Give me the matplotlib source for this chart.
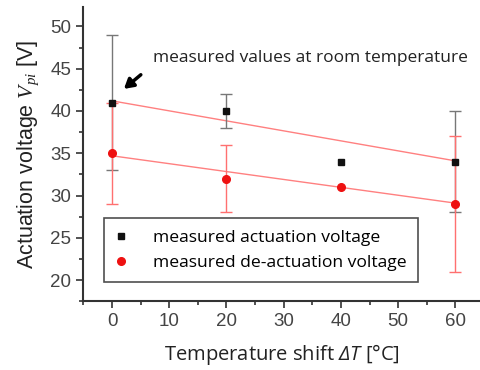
import numpy as np
import matplotlib.pyplot as plt
from matplotlib.ticker import MultipleLocator

# temperature shift [°C]
temp = [0, 20, 40, 60]

# measured actuation voltage [V] with error bar limits
v_act = [41, 40, 34, 34]
v_act_lo = [33, 38, 34, 28]
v_act_hi = [49, 42, 34, 40]

# measured de-actuation voltage [V] with error bar limits
v_deact = [35, 32, 31, 29]
v_deact_lo = [29, 28, 31, 21]
v_deact_hi = [41, 36, 31, 37]

# fitted lines (endpoints at 0 and 60 °C)
fit_x = [0, 60]
fit_act = [41.2, 34.1]
fit_deact = [34.7, 29.1]

label_font = "Open Sans"
tick_font = "Liberation Sans"

plt.rcParams["mathtext.fontset"] = "custom"
plt.rcParams["mathtext.rm"] = "Liberation Serif"
plt.rcParams["mathtext.it"] = "Liberation Serif:italic"
plt.rcParams["mathtext.sf"] = "Open Sans:italic"

fig = plt.figure(figsize=(4.8, 3.7), dpi=100)
ax = fig.add_axes([0.173, 0.186, 0.827, 0.795])


def draw_err(x, y, lo, hi, color, z):
    x, y, lo, hi = map(np.asarray, (x, y, lo, hi))
    m = hi > lo  # skip points without error bars
    ax.errorbar(x[m], y[m], yerr=[y[m] - lo[m], hi[m] - y[m]], fmt="none",
                ecolor=color, elinewidth=1.0, capsize=4, capthick=1.0, zorder=z)


ax.plot(fit_x, fit_act, color="#ff8080", lw=1.0, zorder=2)
ax.plot(fit_x, fit_deact, color="#ff8080", lw=1.0, zorder=2)

draw_err(temp, v_act, v_act_lo, v_act_hi, "#777777", 3)
draw_err(temp, v_deact, v_deact_lo, v_deact_hi, "#ff7070", 4)
ax.plot(temp, v_act, "s", color="#111111", ms=5, zorder=5,
        label="measured actuation voltage")
ax.plot(temp, v_deact, "o", color="#ee1111", ms=5.5, zorder=5,
        label="measured de-actuation voltage")

ax.annotate("", xy=(1.7, 42.4), xytext=(5.4, 44.5),
            arrowprops=dict(arrowstyle="-|>,head_length=0.55,head_width=0.32",
                            color="black", lw=2.5))
ax.text(7.1, 46.3, "measured values at room temperature", fontsize=12.5,
        family=label_font, color="#222222", va="center", ha="left")

ax.set_xlim(-5.07, 64.3)
ax.set_ylim(17.5, 52.3)
ax.xaxis.set_major_locator(MultipleLocator(10))
ax.xaxis.set_minor_locator(MultipleLocator(5))
ax.yaxis.set_major_locator(MultipleLocator(5))
ax.yaxis.set_minor_locator(MultipleLocator(2.5))

for side in ["top", "right"]:
    ax.spines[side].set_visible(False)
for side in ["left", "bottom"]:
    ax.spines[side].set_linewidth(1.5)
    ax.spines[side].set_color("#333333")

ax.tick_params(which="major", direction="out", length=5, width=1.2,
               color="#333333", labelsize=13.5, labelcolor="#444444")
ax.tick_params(which="minor", direction="out", length=3, width=1.2, color="#333333")
for lbl in ax.get_xticklabels() + ax.get_yticklabels():
    lbl.set_family(tick_font)

ax.set_xlabel(r"Temperature shift $\mathsf{\Delta T}$ [°C]", family=label_font,
              fontsize=14.5, color="#222222", labelpad=9)
ax.set_ylabel(r"Actuation voltage $V_{pi}$ [V]", family=tick_font,
              fontsize=15.5, color="#222222", labelpad=7)

leg = ax.legend(loc="lower left", bbox_to_anchor=(0.053, 0.065), frameon=True,
                fancybox=False, edgecolor="#222222", handlelength=0.6,
                handletextpad=1.57, borderpad=0.65, labelspacing=0.5,
                borderaxespad=0, prop={"family": label_font, "size": 12.6})
leg.get_frame().set_linewidth(1.2)

fig.savefig("out.png", dpi=100)
